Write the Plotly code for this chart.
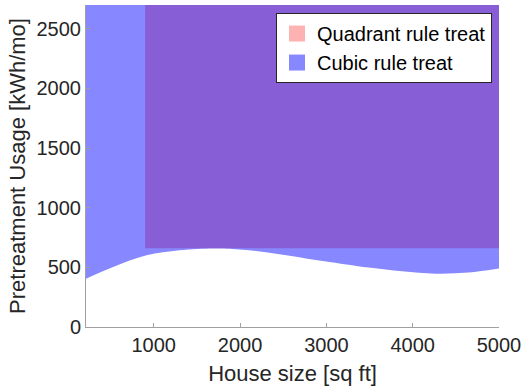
import plotly.graph_objects as go

# Axis limits
x_min, x_max = 215, 5000
y_min, y_max = 0, 2700

# Cubic rule boundary
curve_x = [215, 530, 916, 1300, 1685, 1880, 2206, 2592, 2977, 3491, 3877, 4262, 4647, 5000]
curve_y = [405, 503, 601, 643, 658, 656, 635, 596, 551, 498, 467, 447, 456, 490]

# Quadrant rule rectangle
quad_x0, quad_x1 = 900, 5000
quad_y0, quad_y1 = 660, 2700

series_names = ["Quadrant rule treat", "Cubic rule treat"]
red_fill = "rgba(255,0,0,0.3)"
blue_fill = "rgba(0,0,255,0.47)"

fig = go.Figure()
fig.add_trace(go.Scatter(
    x=[quad_x0, quad_x1, quad_x1, quad_x0, quad_x0],
    y=[quad_y0, quad_y0, quad_y1, quad_y1, quad_y0],
    fill="toself", fillcolor=red_fill,
    line=dict(width=0), mode="lines", showlegend=False, hoverinfo="skip"))
fig.add_trace(go.Scatter(
    x=curve_x, y=curve_y, mode="lines", line=dict(width=0, shape="spline"),
    showlegend=False, hoverinfo="skip"))
fig.add_trace(go.Scatter(
    x=curve_x, y=[y_max] * len(curve_x), mode="lines", fill="tonexty",
    fillcolor=blue_fill, line=dict(width=0),
    showlegend=False, hoverinfo="skip"))

# Legend entries
for name, col in zip(series_names, [red_fill, blue_fill]):
    fig.add_trace(go.Scatter(
        x=[None], y=[None], mode="markers", name=name,
        marker=dict(symbol="square", size=16, color=col, line=dict(width=0))))

axis_common = dict(showgrid=False, zeroline=False, showline=True,
                   linecolor="#a0a0a0", linewidth=1, ticks="inside", ticklen=4,
                   tickcolor="#a0a0a0",
                   tickfont=dict(family="Liberation Sans, Arial", size=20, color="#262626"))

fig.update_layout(
    width=526, height=388,
    margin=dict(l=86, r=27, t=5, b=61),
    paper_bgcolor="white", plot_bgcolor="white",
    font=dict(family="Liberation Sans, Arial", color="#262626"),
    xaxis=dict(range=[x_min, x_max], tickvals=[1000, 2000, 3000, 4000, 5000],
               title=dict(text="House size [sq ft]", font=dict(size=22), standoff=10),
               **axis_common),
    yaxis=dict(range=[y_min, y_max], tickvals=[0, 500, 1000, 1500, 2000, 2500],
               title=dict(text="Pretreatment Usage [kWh/mo]", font=dict(size=22), standoff=4),
               **axis_common),
    legend=dict(x=0.983, y=0.975, xanchor="right", yanchor="top",
                bgcolor="white", bordercolor="#262626", borderwidth=1,
                font=dict(size=20, color="black"), itemwidth=30,
                traceorder="normal", tracegroupgap=0, itemsizing="trace"),
    showlegend=True,
)

fig.write_html("out.html")
